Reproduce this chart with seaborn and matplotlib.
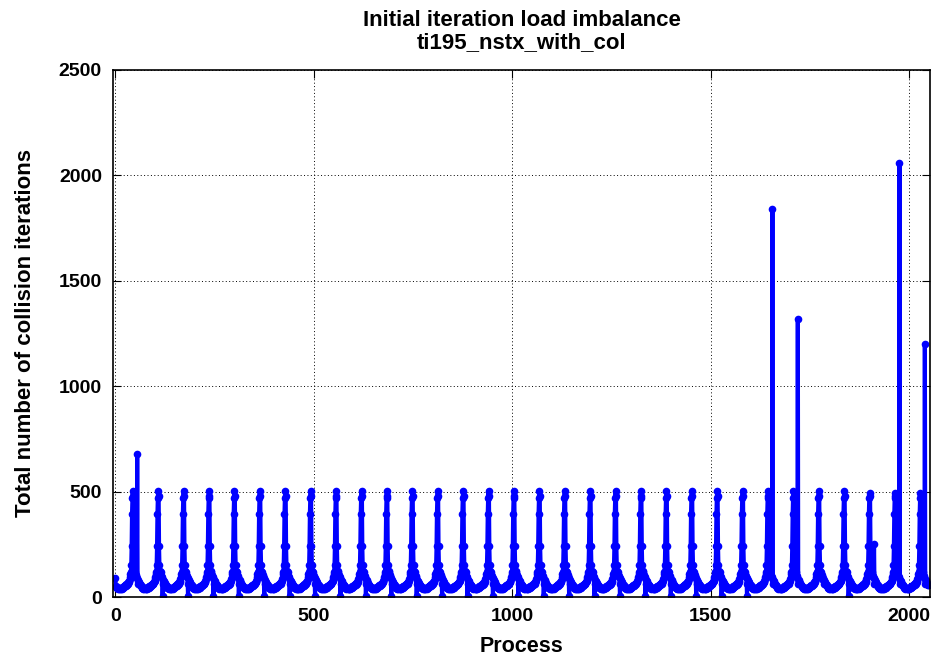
import numpy as np
import pandas as pd
import matplotlib
matplotlib.use("Agg")
import matplotlib.pyplot as plt
import seaborn as sns

# Datos: 2048 procesos en 32 bloques de 64
n_blocks = 32
block_size = 64
peak_offset = 44
slot_offset = 55

# perfil tipico de un bloque (valores aproximados)
block_profile = [
    55, 50, 48, 45, 42, 45, 40, 42, 45, 40,
    42, 45, 40, 38, 42, 45, 40, 42, 45, 48,
    45, 50, 48, 52, 50, 55, 52, 58, 60, 55,
    62, 65, 60, 70, 72, 78, 85, 95, 110, 120,
    150, 240, 395, 470,
    505,
    480, 240, 150, 125, 110, 120, 105, 100, 95, 90,
    85,
    60, 80, 75, 70, 65, 60, 58, 55,
]

# altura del pico de cada bloque
peak_heights = [505, 505, 505, 505, 505, 505, 505, 505,
                505, 505, 505, 505, 505, 505, 505, 505,
                505, 505, 505, 505, 505, 505, 505, 505,
                505, 505, 505, 505, 505, 492, 492, 492]

# valor justo despues del pico: caida a ~0 o pico extra
after_peak = [680, 3, 3, 3, 3, 3, 3, 3,
              3, 3, 3, 3, 3, 3, 3, 3,
              3, 3, 3, 3, 3, 3, 3, 3,
              3, 1840, 1320, 80, 3, 250, 2060, 1200]

first_value = 90

# construir la serie
values = []
for b in range(n_blocks):
    blk = list(block_profile)
    blk[peak_offset] = peak_heights[b]
    blk[slot_offset] = after_peak[b]
    values.extend(blk)
values[0] = first_value

df = pd.DataFrame({"process": np.arange(len(values)), "iters": values})

plt.rcParams['font.family'] = ['Liberation Sans', 'DejaVu Sans']
plt.rcParams['font.weight'] = 'bold'

fig = plt.figure(figsize=(9.33, 6.57), dpi=100)
ax = fig.add_axes([0.1211, 0.0913, 0.8757, 0.8022])

sns.lineplot(data=df, x="process", y="iters", ax=ax, color="blue",
             linewidth=3, marker="o", markersize=5.5, markeredgewidth=0)

ax.set_xlim(-6, 2052)
ax.set_ylim(0, 2500)
ax.set_xticks([0, 500, 1000, 1500, 2000])
ax.set_yticks([0, 500, 1000, 1500, 2000, 2500])
ax.grid(True, color="black", linestyle=(0, (1, 2.5)), linewidth=0.7)
ax.set_axisbelow(True)
ax.tick_params(direction="in", top=True, right=True, length=6, width=0.8,
               labelsize=14, pad=8)
for lab in ax.get_xticklabels() + ax.get_yticklabels():
    lab.set_fontweight("bold")
for s in ax.spines.values():
    s.set_linewidth(1.2)

ax.set_xlabel("Process", fontsize=15.5, fontweight="bold", labelpad=8)
ax.set_ylabel("Total number of collision iterations", fontsize=16,
              fontweight="bold", labelpad=16)
ax.set_title("Initial iteration load imbalance\nti195_nstx_with_col",
             fontsize=16, fontweight="bold", linespacing=1.05, pad=16)

plt.savefig("out.png", dpi=100)
plt.close()
